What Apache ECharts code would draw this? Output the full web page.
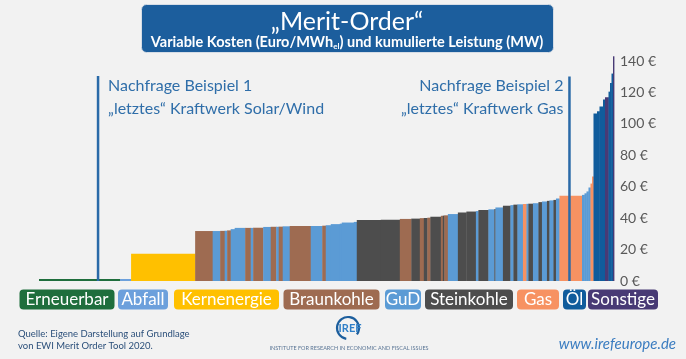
<!DOCTYPE html>
<html><head><meta charset="utf-8">
<script src="https://cdn.jsdelivr.net/npm/echarts@6/dist/echarts.min.js"></script>
<style>html,body{margin:0;padding:0;background:#f2f2f2}#c{width:686px;height:359px}</style>
</head><body><div id="c"></div>
<script>
// Categories (power plant types)
const categories = ['Erneuerbar','Abfall','Kernenergie','Braunkohle','GuD','Steinkohle','Gas','Öl','Sonstige'];
const catColors = ['#1f6e3d','#6ca0dc','#ffc000','#9e6b51','#5b9bd5','#4d4d4d','#f79262','#105c9c','#483a75'];
// Merit order blocks: capacity (GW), variable cost (€/MWh), type index
const capacity = [16.2,2.2,12.8,
 3.5,1.5,0.9,0.5,0.7,0.8,2.1,1.1,0.5,2.0,1.5,1.1,0.5,0.8,1.4,4.2,2.3,0.7,1.0,1.8,0.4,2.4,0.6,
 4.8,3.8,2.3,1.7,0.8,0.7,0.6,2.1,0.4,0.3,0.7,2.0,1.7,1.9,0.5,2.0,1.2,0.2,1.5,1.5,
 0.6,0.8,1.1,0.7,0.4,0.9,1.1,0.7,1.0,0.5,0.8,0.5,0.7,4.5,
 0.5,0.4,0.4,0.4,0.3,0.3,
 0.7,0.5,0.7,0.4,0.7,0.3,0.3,0.3,0.2];
const cost = [0,0,17.4,
 31.8,31.8,31.9,32.0,32.2,33.0,33.8,33.8,33.8,33.9,34.4,34.5,34.5,34.6,34.8,35.0,35.0,35.2,35.5,36.2,36.5,37.2,37.6,
 38.8,39.0,39.5,39.7,40.0,40.1,40.3,40.9,41.5,41.6,41.8,42.6,43.6,44.2,44.5,45.2,45.6,45.8,46.8,47.9,
 48.3,48.6,48.8,49.0,49.1,49.2,49.5,50.2,50.6,51.0,51.3,51.6,52.5,54.2,
 54.8,55.8,57.0,59.5,62.0,66.5,
 106.6,108.0,111.0,115.5,117.0,120.5,126.0,132.0,143.0];
const plantType = [0,1,2,
 3,4,3,4,3,4,4,3,4,3,4,3,4,3,4,3,4,3,4,4,4,4,4,
 5,5,3,5,3,5,3,5,3,5,3,4,5,5,4,5,4,5,4,5,
 4,5,4,6,4,5,4,5,4,5,4,5,4,6,
 4,4,4,4,6,6,
 7,7,7,7,8,7,7,7,8];
// Demand examples: cumulative capacity (GW) and line height (€)
const demandX = [11.8, 106.0];
const demandTop = [130.4, 130.2];
const demandLabels = [['Nachfrage Beispiel 1','„letztes“ Kraftwerk Solar/Wind'],['Nachfrage Beispiel 2','„letztes“ Kraftwerk Gas']];

const blocks = [];
let acc = 0;
for (let i = 0; i < capacity.length; i++) {
  blocks.push([acc, acc + capacity[i], cost[i], plantType[i]]);
  acc += capacity[i];
}
const totalCap = acc;

const chart = echarts.init(document.getElementById('c'));
const FF = 'Lato, "Open Sans", sans-serif';
const annotBlue = '#2f6ea9';

// legend chips layout
const chipX = [19.5,118,174,283.5,385,425,517,563,588];
const chipW = [95,50,105,96,36,88,42,23,70];
const legendGraphics = [];
categories.forEach((c,i)=>{
  legendGraphics.push({type:'rect', id:'chipR'+i, shape:{x:chipX[i],y:289.5,width:chipW[i],height:20,r:4}, style:{fill:catColors[i]}});
  legendGraphics.push({type:'text', id:'chipT'+i, x:chipX[i]+chipW[i]/2, y:300, style:{text:c, fill:'#fff', fontSize:17, fontFamily:FF, textAlign:'center', textVerticalAlign:'middle'}});
});

chart.setOption({
  backgroundColor:'#f2f2f2',
  animation:false,
  grid:{left:39, right:72, top:61, bottom:78},
  xAxis:{type:'value', min:0, max:totalCap, show:false},
  yAxis:{type:'value', position:'right', min:0, max:140, interval:20,
    axisLine:{show:false}, axisTick:{show:false}, splitLine:{show:false},
    axisLabel:{formatter:'{value} €', color:'#595959', fontSize:14, fontFamily:FF, margin:6}},
  series:[
    {type:'custom', name:'Merit-Order', data:blocks, encode:{x:[0,1], y:2},
     clip:false,
     renderItem:function(params, api){
       const x0=api.value(0), x1=api.value(1), c=api.value(2), t=api.value(3);
       const pTop=api.coord([x0,c]); const pEnd=api.coord([x1,0]);
       let h=pEnd[1]-pTop[1]; if(h<2) h=2;
       return {type:'rect', shape:{x:pTop[0], y:pEnd[1]-h, width:pEnd[0]-pTop[0]+0.4, height:h}, style:{fill:catColors[t]}};
     }},
    {type:'line', name:'Nachfrage 1', data:[[demandX[0],0],[demandX[0],demandTop[0]]], symbol:'none', lineStyle:{color:'#2a6aa8', width:2.5}, z:5},
    {type:'line', name:'Nachfrage 2', data:[[demandX[1],0],[demandX[1],demandTop[1]]], symbol:'none', lineStyle:{color:'#2a6aa8', width:2.5}, z:5}
  ],
  graphic: legendGraphics.concat([
    {type:'rect', id:'tbox', shape:{x:141.5,y:4.5,width:412,height:48,r:5}, style:{fill:'#1c5e9d', stroke:'#d6dde6', lineWidth:1}},
    {type:'text', id:'t1', x:347, y:22, style:{text:'„Merit-Order“', fill:'#fff', fontSize:25, fontFamily:FF, textAlign:'center', textVerticalAlign:'middle'}},
    {type:'text', id:'t2', x:347, y:42, style:{
      text:'{a|Variable Kosten (Euro/MWh}{s|el}{a|) und kumulierte Leistung (MW)}',
      textAlign:'center', textVerticalAlign:'middle',
      rich:{a:{fill:'#fff', fontSize:14.5, fontWeight:'bold', fontFamily:FF, lineHeight:16, verticalAlign:'middle'},
            s:{fill:'#fff', fontSize:8, fontWeight:'bold', fontFamily:FF, lineHeight:16, verticalAlign:'bottom', padding:[7,0,0,0]}}}},
    {type:'text', id:'src', left:18, top:328, style:{text:'Quelle: Eigene Darstellung auf Grundlage\nvon EWI Merit Order Tool 2020.', fill:'#2b4f7a', fontSize:9.5, fontFamily:FF, lineHeight:12}},
    {type:'text', id:'url', x:676, y:344, style:{text:'www.irefeurope.de', fill:'#3a7cc0', fontSize:15, fontStyle:'italic', fontFamily:FF, textAlign:'right', textVerticalAlign:'middle'}},
    {type:'arc', id:'logoArc', shape:{cx:348, cy:328, r:11, startAngle:Math.PI*0.55, endAngle:Math.PI*2.2}, style:{stroke:'#1c5e9d', lineWidth:2.2, fill:null}},
    {type:'text', id:'logoT', x:350, y:328, style:{text:'IREF', fill:'#2f7fc8', fontSize:11, fontWeight:'bold', fontFamily:FF, textAlign:'center', textVerticalAlign:'middle'}},
    {type:'text', id:'inst', x:349, y:348, style:{text:'INSTITUTE FOR RESEARCH IN ECONOMIC AND FISCAL ISSUES', fill:'#5a7595', fontSize:5.5, fontFamily:FF, textAlign:'center', textVerticalAlign:'middle'}}
  ])
});

// annotations anchored to demand lines (pixel positions from the chart's own scale)
const p1 = chart.convertToPixel({gridIndex:0}, [demandX[0], demandTop[0]]);
const p2 = chart.convertToPixel({gridIndex:0}, [demandX[1], demandTop[1]]);
const annStyle = {fill:annotBlue, fontSize:16, fontFamily:FF, textVerticalAlign:'middle'};
chart.setOption({graphic: [
  {type:'text', id:'a1', x:p1[0]+10, y:86, style:Object.assign({text:demandLabels[0][0]}, annStyle)},
  {type:'text', id:'a2', x:p1[0]+10, y:109, style:Object.assign({text:demandLabels[0][1]}, annStyle)},
  {type:'text', id:'a3', x:p2[0]-6, y:86, style:Object.assign({text:demandLabels[1][0], textAlign:'right'}, annStyle)},
  {type:'text', id:'a4', x:p2[0]-6, y:109, style:Object.assign({text:demandLabels[1][1], textAlign:'right'}, annStyle)}
]});
</script></body></html>
